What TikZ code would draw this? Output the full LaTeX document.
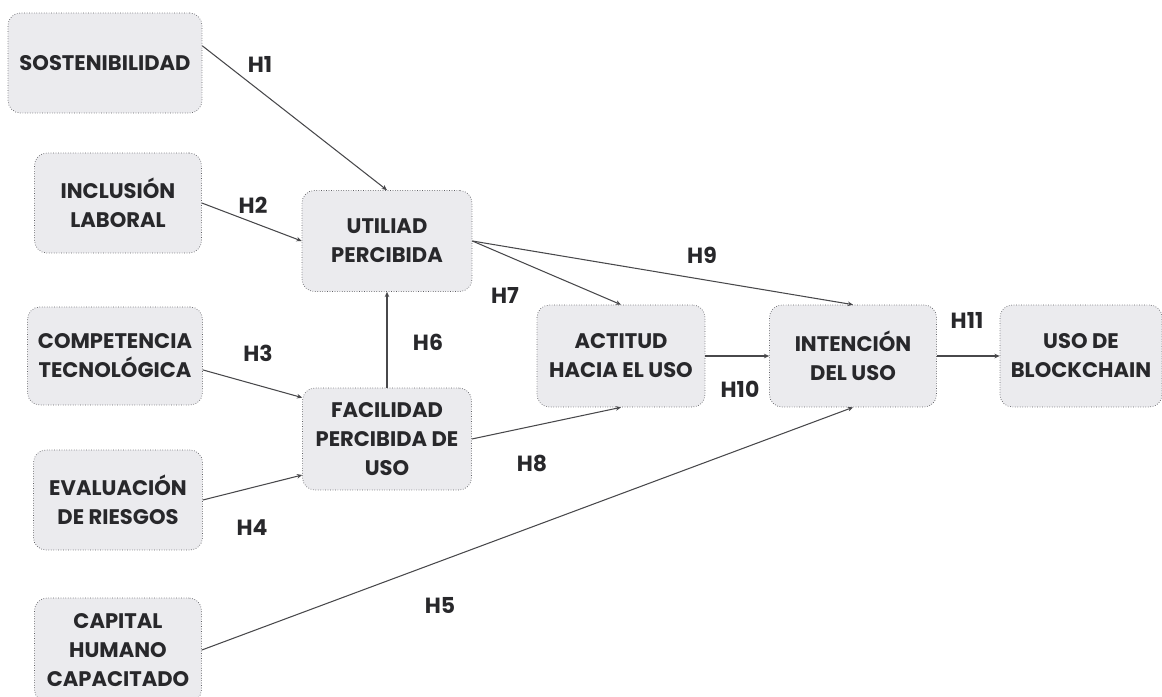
\documentclass[tikz,border=0pt]{standalone}
\usepackage{fontspec}
\setmainfont{Poppins}
\usetikzlibrary{arrows.meta}
\definecolor{boxfill}{RGB}{235,235,238}
\definecolor{boxline}{RGB}{95,95,100}
\definecolor{ink}{RGB}{40,40,43}
\tikzset{
  var/.style={draw=boxline, densely dotted, fill=boxfill, rounded corners=7pt,
    align=center, text=ink, font=\fontsize{12}{16.5}\selectfont\bfseries,
    inner sep=0pt},
  hyp/.style={text=ink, font=\fontsize{12.5}{14}\selectfont\bfseries},
  link/.style={draw=ink!85, line width=0.6pt, -{Stealth[length=3pt,width=2.6pt]}}
}
\begin{document}
\begin{tikzpicture}[x=0.02cm, y=-0.02cm]
  \useasboundingbox (0,0) rectangle (1162,696);
  % left column
  \node[var, minimum width=3.88cm, minimum height=2cm] (sost) at (105,63) {SOSTENIBILIDAD};
  \node[var, minimum width=3.34cm, minimum height=2cm] (incl) at (118,203) {INCLUSIÓN\\LABORAL};
  \node[var, minimum width=3.5cm, minimum height=1.96cm] (comp) at (115,356) {COMPETENCIA\\TECNOLÓGICA};
  \node[var, minimum width=3.38cm, minimum height=2cm] (eval) at (118,500) {EVALUACIÓN\\DE RIESGOS};
  \node[var, minimum width=3.34cm, minimum height=2.08cm] (cap) at (118,650) {CAPITAL\\HUMANO\\CAPACITADO};
  % middle
  \node[var, minimum width=3.4cm, minimum height=2.02cm] (util) at (387,241) {UTILIAD\\PERCIBIDA};
  \node[var, minimum width=3.38cm, minimum height=2.04cm] (fac) at (387,439) {FACILIDAD\\PERCIBIDA DE\\USO};
  \node[var, minimum width=3.36cm, minimum height=2.04cm] (act) at (621,356) {ACTITUD\\HACIA EL USO};
  % right
  \node[var, minimum width=3.34cm, minimum height=2.04cm] (intent) at (853,356) {INTENCIÓN\\DEL USO};
  \node[var, minimum width=3.24cm, minimum height=2.04cm] (uso) at (1081,356) {USO DE\\BLOCKCHAIN};

  \draw[link] (sost.10) -- (util.north);
  \draw[link] (incl.east) -- (util.west);
  \draw[link] (comp.-9) -- (fac.154);
  \draw[link] (eval.east) -- (fac.203);
  \draw[link] (cap.east) -- (intent.south);
  \draw[link] (fac.north) -- (util.south);
  \draw[link] (util.east) -- (act.north);
  \draw[link] (fac.east) -- (act.south);
  \draw[link] (util.east) -- (intent.north);
  \draw[link] (act.east) -- (intent.west);
  \draw[link] (intent.east) -- (uso.west);

  \node[hyp] (h1) at (260,64) {H1};
  \node[hyp] (h2) at (253,205) {H2};
  \node[hyp] (h3) at (258,353) {H3};
  \node[hyp] (h4) at (252,528) {H4};
  \node[hyp] (h5) at (440,605) {H5};
  \node[hyp] (h6) at (428,342) {H6};
  \node[hyp] (h7) at (505,295) {H7};
  \node[hyp] (h8) at (532,463) {H8};
  \node[hyp] (h9) at (702,255) {H9};
  \node[hyp] (h10) at (740,389) {H10};
  \node[hyp] (h11) at (967,320) {H11};
\end{tikzpicture}
\end{document}
